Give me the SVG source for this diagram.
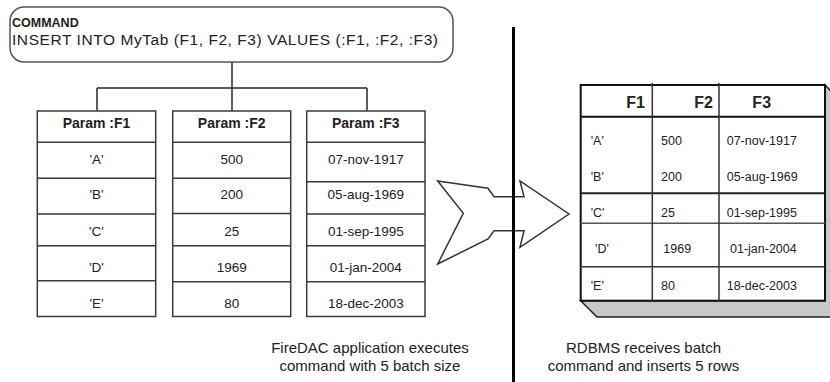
<svg xmlns="http://www.w3.org/2000/svg" width="830" height="382" viewBox="0 0 830 382">
<style>
  text { font-family: "Liberation Sans", Arial, sans-serif; fill: #222; }
  .b { font-weight: bold; }
  .tb { fill: #fff; stroke: #3a3a3a; stroke-width: 1.5; }
  .ln { stroke: #3a3a3a; stroke-width: 1.5; fill: none; }
  .pv { font-size: 13.5px; text-anchor: middle; }
  .ph { font-size: 14px; font-weight: bold; text-anchor: middle; }
  .rv { font-size: 12.5px; }
  .rh { font-size: 16px; font-weight: bold; }
  .cap { font-size: 15px; text-anchor: middle; }
  .conn { stroke: #2a2a2a; stroke-width: 1.5; fill: none; }
</style>
<rect width="830" height="382" fill="#fff"/>

<g id="command">
  <rect x="10" y="7" width="443" height="55" rx="14" ry="14" fill="#fff" stroke="#555" stroke-width="1.5"/>
  <text x="12" y="27" class="b" font-size="12.5">COMMAND</text>
  <text x="12" y="45" font-size="15.5" textLength="426" lengthAdjust="spacing">INSERT INTO MyTab (F1, F2, F3) VALUES (:F1, :F2, :F3)</text>
</g>

<g id="connectors">
  <path class="conn" d="M232 62 V88 M97 88 H367 M97 88 V111 M232 88 V111 M367 88 V111"/>
</g>

<g id="param-f1">
  <rect class="tb" x="37.3" y="111" width="118.4" height="205.5"/>
  <path class="ln" d="M37.3 142.3 H155.7 M37.3 178.3 H155.7 M37.3 214 H155.7 M37.3 245.7 H155.7 M37.3 280.7 H155.7"/>
  <text class="ph" x="96.5" y="128">Param :F1</text>
  <text class="pv" x="96.5" y="164">'A'</text>
  <text class="pv" x="96.5" y="199">'B'</text>
  <text class="pv" x="96.5" y="235.7">'C'</text>
  <text class="pv" x="96.5" y="271.7">'D'</text>
  <text class="pv" x="96.5" y="308">'E'</text>
</g>

<g id="param-f2">
  <rect class="tb" x="172.7" y="111" width="118" height="205.5"/>
  <path class="ln" d="M172.7 142.3 H290.7 M172.7 178.3 H290.7 M172.7 213.5 H290.7 M172.7 245.7 H290.7 M172.7 281.7 H290.7"/>
  <text class="ph" x="231.7" y="128">Param :F2</text>
  <text class="pv" x="231.7" y="164">500</text>
  <text class="pv" x="231.7" y="199">200</text>
  <text class="pv" x="231.7" y="235.7">25</text>
  <text class="pv" x="231.7" y="271.7">1969</text>
  <text class="pv" x="231.7" y="308">80</text>
</g>

<g id="param-f3">
  <rect class="tb" x="306.7" y="111" width="118.3" height="205.5"/>
  <path class="ln" d="M306.7 142.3 H425 M306.7 181.7 H425 M306.7 214 H425 M306.7 245.7 H425 M306.7 281.7 H425"/>
  <text class="ph" x="365.8" y="128">Param :F3</text>
  <text class="pv" x="365.8" y="164">07-nov-1917</text>
  <text class="pv" x="365.8" y="199">05-aug-1969</text>
  <text class="pv" x="365.8" y="235.7">01-sep-1995</text>
  <text class="pv" x="365.8" y="271.7">01-jan-2004</text>
  <text class="pv" x="365.8" y="308">18-dec-2003</text>
</g>

<g id="transfer-arrow">
  <polygon points="437.7,181 488,188.3 494,196.7 524,196.7 520,181 569,214 520,247.3 524,230.7 494,230.7 488,239 437.7,264 463.3,213.3" fill="#fff" stroke="#333" stroke-width="1.5" stroke-linejoin="miter"/>
</g>

<g id="divider">
  <line x1="513.5" y1="27" x2="513.5" y2="382" stroke="#000" stroke-width="3"/>
</g>

<g id="result-table">
  <polygon points="825,85 842,102 842,317 597,317 580.7,300.7 825,300.7" fill="#c8c8c8" stroke="#222" stroke-width="1.5"/>
  <rect x="580.7" y="85" width="244.3" height="215.7" fill="#fff" stroke="#111" stroke-width="2"/>
  <path d="M580.7 116.7 H825" stroke="#111" stroke-width="2"/>
  <path d="M580.7 193.3 H825" stroke="#222" stroke-width="2"/>
  <path d="M580.7 223.3 H825" stroke="#555" stroke-width="1.5"/>
  <path d="M580.7 266.7 H825" stroke="#333" stroke-width="1.5"/>
  <path d="M652.3 83 V300.7 M719 83 V300.7" stroke="#333" stroke-width="1.5"/>
  <text class="rh" x="645" y="108.3" text-anchor="end">F1</text>
  <text class="rh" x="713" y="108.3" text-anchor="end">F2</text>
  <text class="rh" x="761.7" y="108.3" text-anchor="middle">F3</text>
  <text class="rv" x="590.7" y="145">'A'</text>
  <text class="rv" x="661" y="145">500</text>
  <text class="rv" x="726.7" y="145">07-nov-1917</text>
  <text class="rv" x="590.7" y="181">'B'</text>
  <text class="rv" x="661" y="181">200</text>
  <text class="rv" x="726.7" y="181">05-aug-1969</text>
  <text class="rv" x="590.7" y="216.7">'C'</text>
  <text class="rv" x="661" y="216.7">25</text>
  <text class="rv" x="726.7" y="216.7">01-sep-1995</text>
  <text class="rv" x="595" y="253.3">'D'</text>
  <text class="rv" x="663.3" y="253.3">1969</text>
  <text class="rv" x="730" y="253.3">01-jan-2004</text>
  <text class="rv" x="590.7" y="290">'E'</text>
  <text class="rv" x="661" y="290">80</text>
  <text class="rv" x="726.7" y="290">18-dec-2003</text>
</g>

<g id="captions">
  <text class="cap" x="370" y="352.7">FireDAC application executes</text>
  <text class="cap" x="370" y="370.7">command with 5 batch size</text>
  <text class="cap" x="643.5" y="352.7">RDBMS receives batch</text>
  <text class="cap" x="643.5" y="370.7">command and inserts 5 rows</text>
</g>
</svg>
